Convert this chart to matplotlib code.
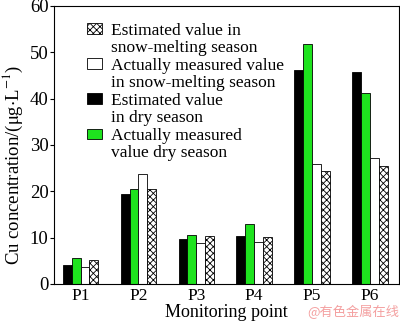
import numpy as np
import matplotlib
matplotlib.use('Agg')
import matplotlib.pyplot as plt
from matplotlib.patches import Patch

plt.rcParams['font.family'] = ['Liberation Serif', 'DejaVu Serif']
plt.rcParams['mathtext.fontset'] = 'stix'
plt.rcParams['hatch.linewidth'] = 0.6

points = ['P1', 'P2', 'P3', 'P4', 'P5', 'P6']
est_dry = [4.0, 19.4, 9.7, 10.3, 46.1, 45.7]
meas_dry = [5.5, 20.5, 10.5, 12.9, 51.8, 41.1]
meas_snow = [3.6, 23.8, 8.9, 9.0, 25.9, 27.1]
est_snow = [5.1, 20.5, 10.3, 10.1, 24.4, 25.4]

fig = plt.figure(figsize=(4.0, 3.26), dpi=100)
ax = fig.add_axes([0.135, 0.129, 0.862, 0.853])

x = np.arange(len(points))
w = 0.153
b_dry = ax.bar(x - 1.5 * w, est_dry, w, color='black', edgecolor='black', lw=0.6)
g_dry = ax.bar(x - 0.5 * w, meas_dry, w, color='#1ee31e', edgecolor='black', lw=0.6)
w_snow = ax.bar(x + 0.5 * w, meas_snow, w, color='white', edgecolor='black', lw=0.6)
h_snow = ax.bar(x + 1.5 * w, est_snow, w, color='white', edgecolor='black', lw=0.6,
                hatch='xxxxx')

ax.set_xlim(-0.46, 5.5)
ax.set_ylim(0, 60)
ax.set_yticks(range(0, 61, 10))
ax.set_xticks(x)
ax.set_xticklabels(points)
ax.tick_params(axis='x', length=0, labelsize=12.5, pad=3)
ax.tick_params(axis='y', direction='out', length=3, labelsize=13.5, pad=1)
ax.set_xlabel('Monitoring point', fontsize=13, labelpad=0)
ax.set_ylabel(r'Cu concentration/($\mathrm{\mu}$g$\cdot$L$^{-1}$)', fontsize=13.5)
ax.yaxis.set_label_coords(-0.085, 0.43)

# legend: handle sits on the first line of each two-line label
blank = Patch(alpha=0)
handles = [h_snow, blank, w_snow, blank, b_dry, blank, g_dry, blank]
labels = ['Estimated value in', 'snow-melting season',
          'Actually measured value', 'in snow-melting season',
          'Estimated value', 'in dry season',
          'Actually measured', 'value dry season']
ax.legend(handles=handles, labels=labels, loc='upper left',
          bbox_to_anchor=(0.095, 0.94), frameon=False, fontsize=12.5,
          handlelength=0.85, handleheight=0.55, handletextpad=0.55,
          labelspacing=0.09, borderaxespad=0, borderpad=0)

fig.text(0.997, 0.02, '@有色金属在线', ha='right', va='bottom', fontsize=9.5,
         color='#f4a0a0', family=['Noto Sans CJK SC', 'DejaVu Sans'])

fig.savefig('out.png', dpi=100)
